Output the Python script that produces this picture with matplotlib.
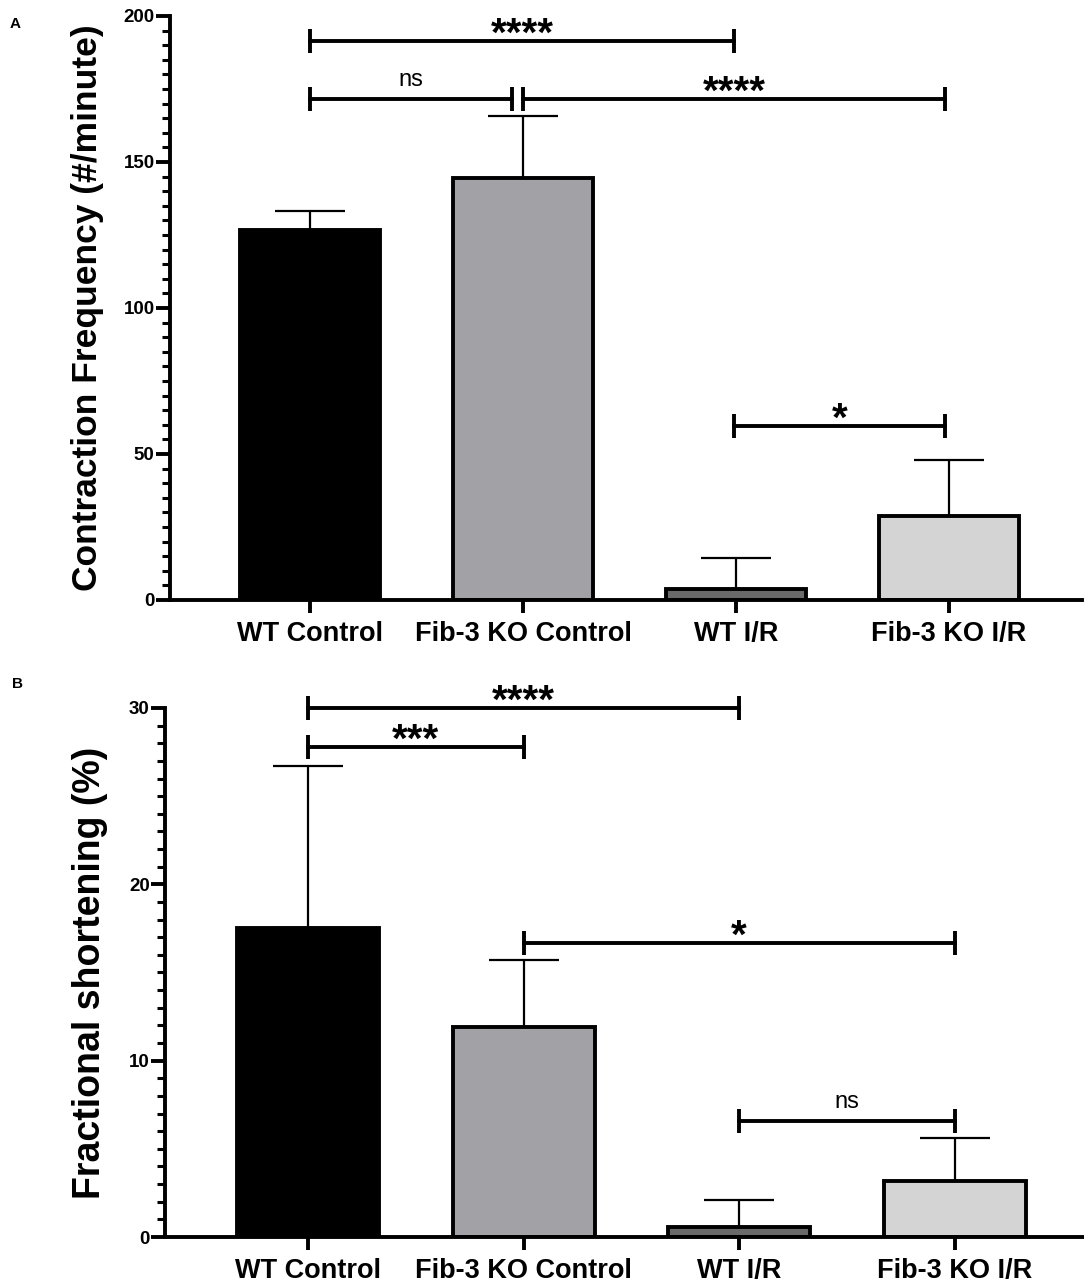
import matplotlib
matplotlib.use('Agg')
import matplotlib.pyplot as plt
from matplotlib.ticker import MultipleLocator

plt.rcParams['font.family'] = ['Liberation Sans', 'DejaVu Sans']

groups = ['WT Control', 'Fib-3 KO Control', 'WT I/R', 'Fib-3 KO I/R']
colors = ['#000000', '#a2a1a6', '#6a6a6a', '#d4d4d4']

# panel A: contraction frequency
freq_mean = [126.8, 144.5, 3.8, 28.6]
freq_err = [6.3, 21.4, 10.7, 19.3]
# (from, to, height, label)
freq_sig = [(0, 1.99, 191.4, '****'),
            (0, 0.95, 171.5, 'ns'),
            (1.0, 2.98, 171.5, '****'),
            (1.99, 2.98, 59.7, '*')]

# panel B: fractional shortening
fs_mean = [17.55, 11.9, 0.57, 3.2]
fs_err = [9.15, 3.8, 1.55, 2.4]
fs_sig = [(0, 2.0, 30.0, '****'),
          (0, 1.0, 27.8, '***'),
          (1.0, 3.0, 16.7, '*'),
          (2.0, 3.0, 6.55, 'ns')]


def draw_panel(ax, means, errs, sig, ymax, major, minor, ylabel, ylab_size, label_x):
    x = range(len(groups))
    ax.errorbar(x, means, yerr=[[0] * len(means), errs], fmt='none', ecolor='k',
                elinewidth=1.6, capsize=25, capthick=1.6, zorder=1)
    ax.bar(x, means, width=0.66, color=colors, edgecolor='k', linewidth=2.8, zorder=2)
    ax.set_ylim(0, ymax)
    ax.yaxis.set_major_locator(MultipleLocator(major))
    ax.yaxis.set_minor_locator(MultipleLocator(minor))
    ax.set_xticks(list(x))
    ax.set_xticklabels(groups, fontsize=19.5, fontweight='bold')
    for t in ax.get_yticklabels():
        t.set_fontweight('bold')
    ax.tick_params(axis='y', which='major', length=10, width=2.8, labelsize=13.5, pad=1)
    ax.tick_params(axis='y', which='minor', length=6, width=2.2)
    ax.tick_params(axis='x', which='major', length=9, width=2.8, pad=6)
    for s in ['top', 'right']:
        ax.spines[s].set_visible(False)
    for s in ['left', 'bottom']:
        ax.spines[s].set_linewidth(2.8)
    ax.set_ylabel(ylabel, fontsize=ylab_size, fontweight='bold')
    ax.yaxis.set_label_coords(label_x, 0.5)
    for x1, x2, h, lab in sig:
        ax.plot([x1, x2], [h, h], color='k', lw=2.8, marker='|', markersize=17,
                markeredgewidth=2.8, clip_on=False, zorder=3)
        if lab == 'ns':
            ax.annotate(lab, ((x1 + x2) / 2, h), xytext=(0, 9.5), textcoords='offset points',
                        ha='center', va='baseline', fontsize=17)
        else:
            ax.annotate(lab, ((x1 + x2) / 2, h), xytext=(0, -3.5), textcoords='offset points',
                        ha='center', va='baseline', fontsize=29, fontweight='bold')


fig = plt.figure(figsize=(10.84, 12.85), dpi=100)
ax1 = fig.add_axes([0.1568, 0.5331, 0.8414, 0.4545])
ax1.set_xlim(-0.657, 3.624)
draw_panel(ax1, freq_mean, freq_err, freq_sig, 200, 50, 5,
           'Contraction Frequency (#/minute)', 25.5, -0.072)

ax2 = fig.add_axes([0.1522, 0.03735, 0.8478, 0.4117])
ax2.set_xlim(-0.664, 3.6)
draw_panel(ax2, fs_mean, fs_err, fs_sig, 30, 10, 1,
           'Fractional shortening (%)', 27, -0.062)

fig.text(0.009, 0.981, 'A', fontsize=11, fontweight='bold', va='center')
fig.text(0.011, 0.468, 'B', fontsize=11, fontweight='bold', va='center')

fig.savefig('out.png', dpi=100)
